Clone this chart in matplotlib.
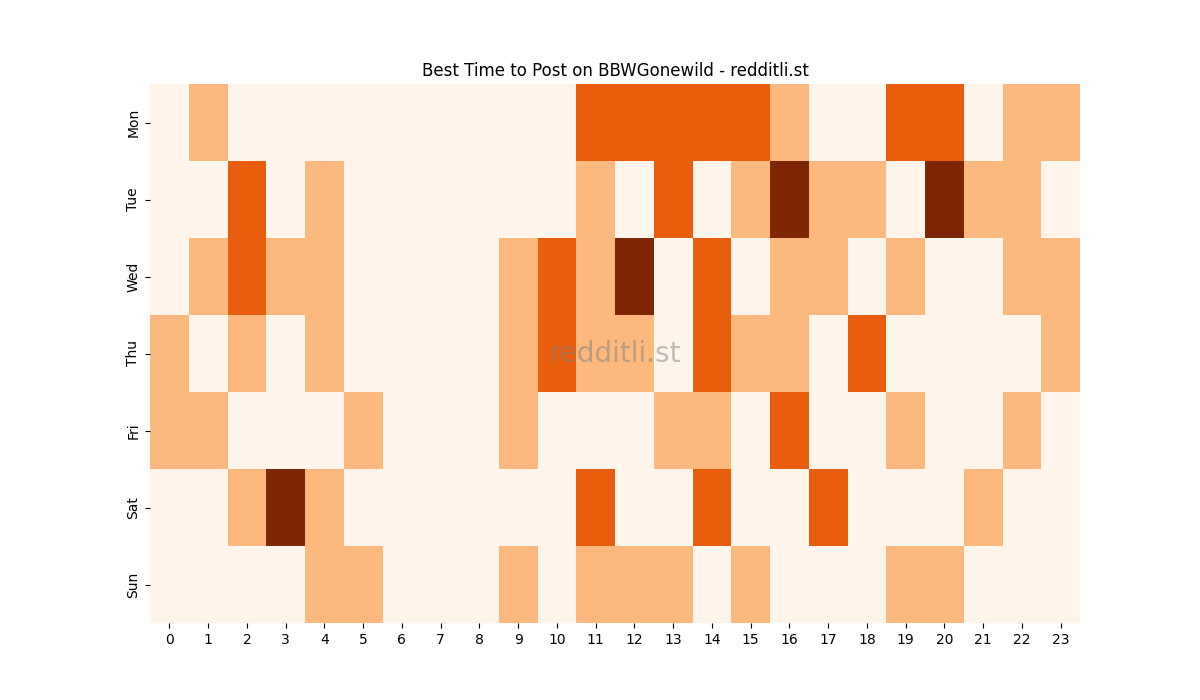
import matplotlib
matplotlib.use("Agg")
import matplotlib.pyplot as plt
import seaborn as sns
import numpy as np

days = ["Mon", "Tue", "Wed", "Thu", "Fri", "Sat", "Sun"]
hours = list(range(24))

mon = [0,1,0,0,0,0,0,0,0,0,0,2,2,2,2,2,1,0,0,2,2,0,1,1]
tue = [0,0,2,0,1,0,0,0,0,0,0,1,0,2,0,1,3,1,1,0,3,1,1,0]
wed = [0,1,2,1,1,0,0,0,0,1,2,1,3,0,2,0,1,1,0,1,0,0,1,1]
thu = [1,0,1,0,1,0,0,0,0,1,2,1,1,0,2,1,1,0,2,0,0,0,0,1]
fri = [1,1,0,0,0,1,0,0,0,1,0,0,0,1,1,0,2,0,0,1,0,0,1,0]
sat = [0,0,1,3,1,0,0,0,0,0,0,2,0,0,2,0,0,2,0,0,0,1,0,0]
sun = [0,0,0,0,1,1,0,0,0,1,0,1,1,1,0,1,0,0,0,1,1,0,0,0]

data = np.array([mon, tue, wed, thu, fri, sat, sun])

fig = plt.figure(figsize=(12, 7), dpi=100)
ax = fig.add_subplot(111)
sns.heatmap(data, cmap="Oranges", cbar=False, ax=ax, vmin=0, vmax=3,
            xticklabels=hours, yticklabels=days)
ax.set_title("Best Time to Post on BBWGonewild - redditli.st")
plt.setp(ax.get_yticklabels(), rotation=90, va="center")
plt.setp(ax.get_xticklabels(), rotation=0)
ax.text(0.5, 0.5, "redditli.st", transform=ax.transAxes, ha="center",
        va="center", fontsize=20, color="gray", alpha=0.5)
fig.savefig("out.png", dpi=100)
